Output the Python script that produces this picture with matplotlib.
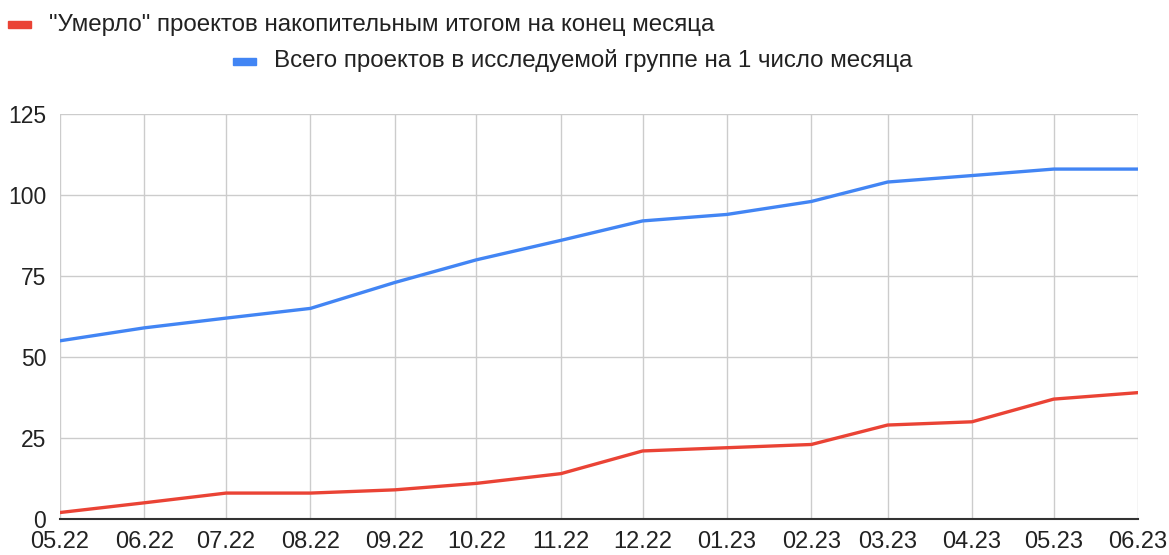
import pandas as pd
import matplotlib.pyplot as plt
import matplotlib.dates as mdates
from matplotlib.patches import Rectangle

plt.rcParams['font.family'] = ['Liberation Sans', 'DejaVu Sans']

# month starts (date axis, so Feb is narrower)
months = ['2022-05-01', '2022-06-01', '2022-07-01', '2022-08-01', '2022-09-01',
          '2022-10-01', '2022-11-01', '2022-12-01', '2023-01-01', '2023-02-01',
          '2023-03-01', '2023-04-01', '2023-05-01', '2023-06-01']
dead = [2, 5, 8, 8, 9, 11, 14, 21, 22, 23, 29, 30, 37, 39]
total = [55, 59, 62, 65, 73, 80, 86, 92, 94, 98, 104, 106, 108, 108]
dead_label = '"Умерло" проектов накопительным итогом на конец месяца'
total_label = 'Всего проектов в исследуемой группе на 1 число месяца'

red = '#ea4335'
blue = '#4285f4'

dates = pd.to_datetime(months)

fig = plt.figure(figsize=(11.69, 5.55), dpi=100)
ax = fig.add_axes([60 / 1169, 36 / 555, 1078 / 1169, 405 / 555])

ax.plot(dates, total, color=blue, lw=2.4, solid_joinstyle='round', zorder=3)
ax.plot(dates, dead, color=red, lw=2.4, solid_joinstyle='round', zorder=3)

ax.set_xlim(dates[0], dates[-1])
ax.set_ylim(0, 125)
ax.set_yticks([0, 25, 50, 75, 100, 125])
ax.set_xticks(dates)
ax.xaxis.set_major_formatter(mdates.DateFormatter('%m.%y'))

ax.grid(True, color='#cccccc', lw=1)
for s in ['top', 'right', 'left']:
    ax.spines[s].set_visible(False)
ax.spines['bottom'].set_color('#333333')
ax.spines['bottom'].set_linewidth(1.5)
ax.spines['bottom'].set_zorder(4)
ax.tick_params(length=0, colors='#222222')
ax.tick_params(axis='y', pad=10, labelsize=16.5)
ax.tick_params(axis='x', pad=9, labelsize=17)
ax.set_axisbelow(True)

# legend drawn by hand, Google Charts style
def legend_item(x_px, y_px, color, text):
    fig.add_artist(Rectangle((x_px / 1169, 1 - (y_px + 3.5) / 555), 23 / 1169, 7 / 555,
                             transform=fig.transFigure, color=color))
    fig.text((x_px + 41) / 1169, 1 - y_px / 555, text, fontsize=17.4,
             color='#222222', va='center', ha='left')

legend_item(8, 24.5, red, dead_label)
legend_item(233, 61, blue, total_label)

fig.savefig('out.png', dpi=100)
